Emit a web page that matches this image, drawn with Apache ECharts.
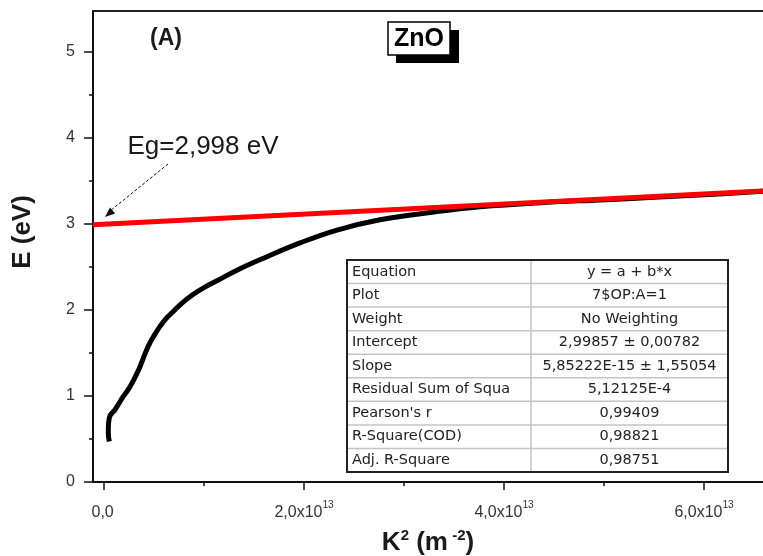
<!DOCTYPE html>
<html>
<head>
<meta charset="utf-8">
<script src="https://cdn.jsdelivr.net/npm/echarts@6/dist/echarts.min.js"></script>
<style>
html, body { margin: 0; padding: 0; background: #fff; }
#main { width: 763px; height: 556px; }
</style>
</head>
<body>
<div id="main"></div>
<script>
// K^2 in units of 1e13 m^-2, E in eV
var kSquared = [0.053, 0.043, 0.045, 0.06, 0.11, 0.19, 0.24, 0.28, 0.32, 0.36, 0.41, 0.46, 0.51, 0.56, 0.62, 0.69, 0.78, 0.89, 1.0, 1.13, 1.36, 1.63, 1.96, 2.33, 2.76, 3.3, 3.76, 4.4, 4.96, 5.5, 6.0, 6.59];
var energy = [0.47, 0.57, 0.67, 0.77, 0.84, 0.99, 1.07, 1.15, 1.24, 1.34, 1.49, 1.62, 1.72, 1.81, 1.90, 1.98, 2.08, 2.18, 2.26, 2.34, 2.48, 2.62, 2.78, 2.93, 3.05, 3.14, 3.20, 3.25, 3.28, 3.31, 3.34, 3.38];
// linear fit line (red), end points
var fitK = [-0.11, 6.59];
var fitE = [2.992, 3.384];

var xTicks = [0, 2, 4, 6];
var xMinorTicks = [1, 3, 5];
var yTicks = [0, 1, 2, 3, 4, 5];
var yMinorTicks = [0.5, 1.5, 2.5, 3.5, 4.5];

var tableKeys = ['Equation', 'Plot', 'Weight', 'Intercept', 'Slope', 'Residual Sum of Squa', "Pearson's r", 'R-Square(COD)', 'Adj. R-Square'];
var tableVals = ['y = a + b*x', '7$OP:A=1', 'No Weighting', '2,99857 \u00b1 0,00782', '5,85222E-15 \u00b1 1,55054', '5,12125E-4', '0,99409', '0,98821', '0,98751'];

var font = '"Liberation Sans", Arial, sans-serif';
var myChart = echarts.init(document.getElementById('main'));

var zip = function (xs, ys) {
    var out = [];
    for (var i = 0; i < xs.length; i++) out.push([xs[i], ys[i]]);
    return out;
};

var buildTable = function () {
    var left = 347, top = 260, w = 381, h = 212, colX = 531;
    var rowH = h / tableKeys.length;
    var kids = [];
    kids.push({ type: 'rect', shape: { x: left, y: top, width: w, height: h }, style: { fill: '#fff', stroke: '#222', lineWidth: 2 }, z: 10 });
    for (var i = 1; i < tableKeys.length; i++) {
        var yy = top + i * rowH;
        kids.push({ type: 'line', shape: { x1: left + 1, y1: yy, x2: left + w - 1, y2: yy }, style: { stroke: '#c4c4c4', lineWidth: 1.5 }, z: 11 });
    }
    kids.push({ type: 'line', shape: { x1: colX, y1: top + 1, x2: colX, y2: top + h - 1 }, style: { stroke: '#c4c4c4', lineWidth: 1.5 }, z: 11 });
    for (var j = 0; j < tableKeys.length; j++) {
        var cy = top + (j + 0.5) * rowH;
        kids.push({ type: 'text', x: left + 5, y: cy, z: 12,
            style: { text: tableKeys[j], font: '14.5px "DejaVu Sans", sans-serif', fill: '#222', textAlign: 'left', textVerticalAlign: 'middle' } });
        kids.push({ type: 'text', x: (colX + left + w) / 2, y: cy, z: 12,
            style: { text: tableVals[j], font: '14.5px "DejaVu Sans", sans-serif', fill: '#222', textAlign: 'center', textVerticalAlign: 'middle' } });
    }
    return kids;
};

var xMin = -0.11, xMax = 6.59, yMin = 0, yMax = 5.477;

var option = {
    animation: false,
    grid: { left: 93, right: 0, top: 11, bottom: 74, outerBoundsMode: 'none' },
    xAxis: [
        {
            type: 'value', min: xMin, max: xMax, position: 'bottom',
            axisLine: { onZero: false, lineStyle: { color: '#111', width: 2 } },
            axisTick: { customValues: xTicks, length: 8, lineStyle: { color: '#111', width: 1.5 } },
            axisLabel: {
                customValues: xTicks, margin: 18,
                formatter: function (v) {
                    if (v === 0) return '{n|0,0}{s| }';
                    return '{n|' + v.toFixed(1).replace('.', ',') + 'x10}{s|13}';
                },
                rich: {
                    n: { fontSize: 16, color: '#333', fontFamily: font, verticalAlign: 'bottom' },
                    s: { fontSize: 10, color: '#333', fontFamily: font, verticalAlign: 'bottom', padding: [0, 0, 11, 0] }
                }
            },
            splitLine: { show: false },
            name: '{b|K}{s|2}{b| (m}{s| -2}{b|)}',
            nameLocation: 'middle', nameGap: 46,
            nameTextStyle: {
                rich: {
                    b: { fontSize: 26, fontWeight: 'bold', color: '#1a1a1a', fontFamily: font, verticalAlign: 'bottom' },
                    s: { fontSize: 15, fontWeight: 'bold', color: '#1a1a1a', fontFamily: font, verticalAlign: 'bottom', padding: [0, 0, 13, 0] }
                }
            }
        },
        {
            type: 'value', min: xMin, max: xMax, position: 'bottom',
            axisLine: { show: false, onZero: false },
            axisTick: { customValues: xMinorTicks, length: 4, lineStyle: { color: '#111', width: 1.5 } },
            axisLabel: { show: false },
            splitLine: { show: false }
        },
        {
            type: 'value', min: xMin, max: xMax, position: 'top',
            axisLine: { onZero: false, lineStyle: { color: '#222', width: 2 } },
            axisTick: { show: false },
            axisLabel: { show: false },
            splitLine: { show: false }
        }
    ],
    yAxis: [
        {
            type: 'value', min: yMin, max: yMax, position: 'left',
            axisLine: { show: true, onZero: false, lineStyle: { color: '#111', width: 2 } },
            axisTick: { show: true, customValues: yTicks, length: 9, lineStyle: { color: '#111', width: 1.5 } },
            axisLabel: { customValues: yTicks, margin: 18, fontSize: 16, color: '#333', fontFamily: font },
            splitLine: { show: false }
        },
        {
            type: 'value', min: yMin, max: yMax, position: 'left',
            axisLine: { show: false, onZero: false },
            axisTick: { show: true, customValues: yMinorTicks, length: 4, lineStyle: { color: '#111', width: 1.5 } },
            axisLabel: { show: false },
            splitLine: { show: false }
        }
    ],
    series: [
        {
            type: 'line', xAxisIndex: 0, yAxisIndex: 0,
            data: zip(kSquared, energy),
            smooth: 0.4, symbol: 'none',
            lineStyle: { color: '#000', width: 5 }
        },
        {
            type: 'line', xAxisIndex: 0, yAxisIndex: 0,
            data: zip(fitK, fitE),
            symbol: 'none',
            lineStyle: { color: '#ff0000', width: 5 }
        }
    ],
    graphic: [
        { type: 'text', x: 150, y: 27, style: { text: '(A)', font: 'bold 23px ' + font, fill: '#1a1a1a' } },
        { type: 'rect', shape: { x: 396, y: 30, width: 63, height: 33 }, style: { fill: '#000' } },
        { type: 'rect', shape: { x: 388, y: 22, width: 62, height: 33 }, style: { fill: '#fff', stroke: '#000', lineWidth: 1.5 } },
        { type: 'text', x: 419, y: 39, style: { text: 'ZnO', font: 'bold 25px ' + font, fill: '#000', textAlign: 'center', textVerticalAlign: 'middle' } },
        { type: 'text', x: 203, y: 147, style: { text: 'Eg=2,998 eV', font: '26px ' + font, fill: '#1a1a1a', textAlign: 'center', textVerticalAlign: 'middle' } },
        { type: 'line', shape: { x1: 168, y1: 164, x2: 110, y2: 211 }, style: { stroke: '#111', lineWidth: 1, lineDash: [3, 2] } },
        { type: 'polygon', shape: { points: [[105, 217], [115.2, 213.6], [110, 207.5]] }, style: { fill: '#111' } },
        { type: 'text', x: 23, y: 232, rotation: Math.PI / 2, style: { text: 'E (eV)', font: 'bold 26px ' + font, fill: '#1a1a1a', textAlign: 'center', textVerticalAlign: 'middle' } },
        { type: 'group', children: buildTable() }
    ]
};
option && myChart.setOption(option);
window.onresize = function () {
    myChart.resize();
};
</script>
</body>
</html>
